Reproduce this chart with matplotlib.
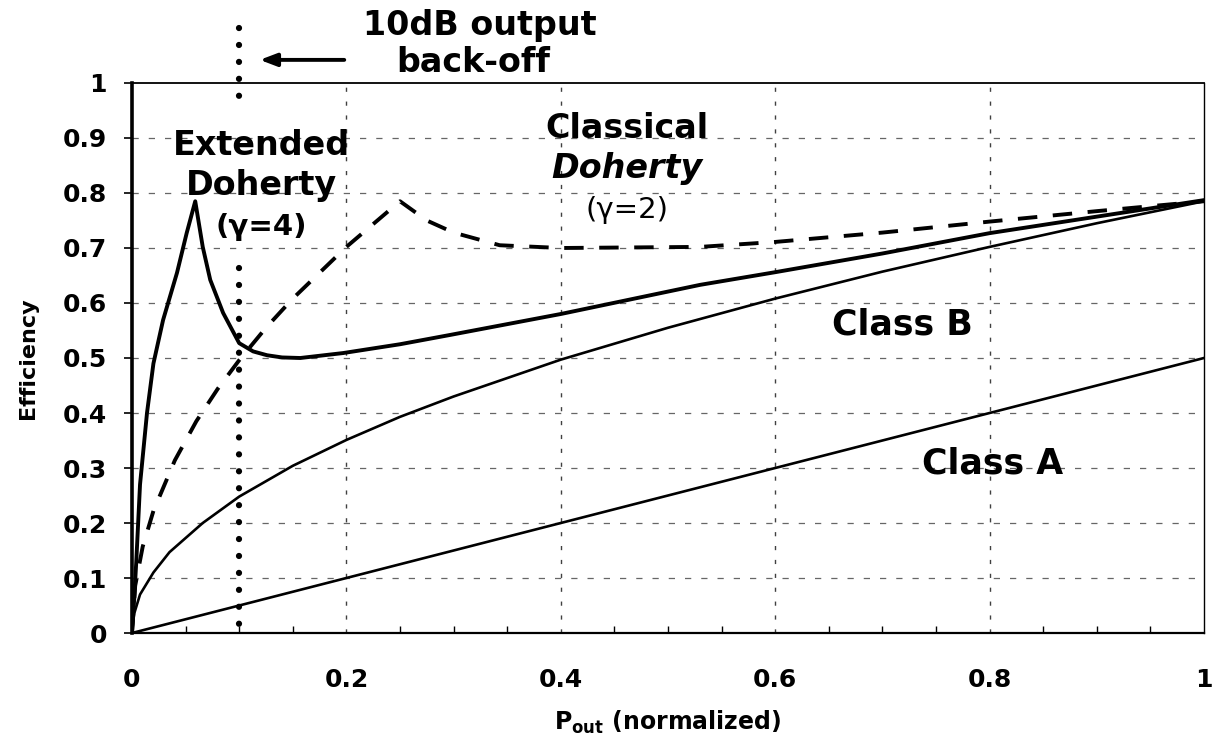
import matplotlib
matplotlib.use("Agg")
import matplotlib.pyplot as plt
import numpy as np

plt.rcParams['font.family'] = ['DejaVu Sans']
plt.rcParams['mathtext.fontset'] = 'dejavusans'

# values
class_a_x = [0.0, 1.0]
class_a_y = [0.0, 0.5]

class_b_x = [0.0, 0.002, 0.0075, 0.02, 0.035, 0.066, 0.1, 0.15, 0.2, 0.25, 0.3,
             0.4, 0.5, 0.6, 0.7, 0.8, 0.9, 1.0]
class_b_y = [0.0, 0.035, 0.07, 0.11, 0.147, 0.2, 0.248, 0.304, 0.351, 0.393, 0.43,
             0.497, 0.555, 0.608, 0.657, 0.702, 0.745, 0.785]

ext_x = [0.0, 0.002, 0.004, 0.0075, 0.014, 0.02, 0.029, 0.042, 0.051, 0.059,
         0.066, 0.073, 0.085, 0.1, 0.113, 0.126, 0.14, 0.157, 0.197, 0.25, 0.297,
         0.4, 0.53, 0.6, 0.7, 0.8, 0.9, 1.0]
ext_y = [0.0, 0.06, 0.13, 0.27, 0.40, 0.49, 0.569, 0.655, 0.727, 0.785,
         0.702, 0.642, 0.582, 0.527, 0.512, 0.505, 0.501, 0.5, 0.509, 0.525, 0.542,
         0.58, 0.633, 0.656, 0.69, 0.727, 0.757, 0.787]

classic_x = [0.0, 0.003, 0.01, 0.02, 0.04, 0.06, 0.08, 0.1, 0.125, 0.15, 0.2,
             0.25, 0.275, 0.3, 0.343, 0.4, 0.53, 0.6, 0.7, 0.8, 0.9, 1.0]
classic_y = [0.0, 0.086, 0.157, 0.222, 0.314, 0.385, 0.444, 0.496, 0.555, 0.608, 0.702,
             0.785, 0.75, 0.728, 0.705, 0.70, 0.702, 0.711, 0.728, 0.748, 0.767, 0.785]

backoff_x = 0.1

xticks = [0, 0.2, 0.4, 0.6, 0.8, 1.0]
xticklabels = ['0', '0.2', '0.4', '0.6', '0.8', '1']
yticks = [0, 0.1, 0.2, 0.3, 0.4, 0.5, 0.6, 0.7, 0.8, 0.9, 1.0]
yticklabels = ['0', '0.1', '0.2', '0.3', '0.4', '0.5', '0.6', '0.7', '0.8', '0.9', '1']

fig = plt.figure(figsize=(12.12, 7.37), dpi=100)
ax = fig.add_axes([0.1089, 0.1411, 0.8845, 0.7463])

ax.set_xlim(0, 1)
ax.set_ylim(0, 1)

# grid
for yv in yticks[1:-1]:
    ax.axhline(yv, color='0.4', lw=0.9, linestyle=(0, (5, 8)), zorder=1)
for xv in xticks[1:-1]:
    ax.axvline(xv, color='0.25', lw=1.0, linestyle=(0, (3, 7)), zorder=1)

ax.plot(class_a_x, class_a_y, color='black', lw=1.9, zorder=3)
ax.plot(class_b_x, class_b_y, color='black', lw=1.9, zorder=3)
ax.plot(ext_x, ext_y, color='black', lw=2.8, zorder=4, solid_joinstyle='round')
ax.plot(classic_x, classic_y, color='black', lw=2.8, linestyle=(0, (5, 4)),
        dash_capstyle='butt', zorder=4)

# 10dB back-off marker (drawn top-down so the dots start at the ends)
dot_style = dict(color='black', lw=4.5, linestyle=(0, (0.01, 2.7)),
                 dash_capstyle='round', clip_on=False, zorder=5)
ax.plot([backoff_x, backoff_x], [0.664, 0.0], **dot_style)
ax.plot([backoff_x, backoff_x], [1.10, 0.951], **dot_style)

ax.annotate('', xy=(0.1166, 1.042), xytext=(0.2006, 1.042),
            xycoords='data', annotation_clip=False,
            arrowprops=dict(arrowstyle='-|>,head_length=1.0,head_width=0.38',
                            color='black', lw=2.8))
ax.text(0.324, 1.105, '10dB output', ha='center', va='center',
        fontsize=24, fontweight='bold', clip_on=False)
ax.text(0.318, 1.038, 'back-off', ha='center', va='center',
        fontsize=24, fontweight='bold', clip_on=False)

ax.text(0.121, 0.887, 'Extended', ha='center', va='center', fontsize=24, fontweight='bold')
ax.text(0.121, 0.813, 'Doherty', ha='center', va='center', fontsize=24, fontweight='bold')
ax.text(0.121, 0.738, '(γ=4)', ha='center', va='center', fontsize=21, fontweight='bold')

ax.text(0.462, 0.918, 'Classical', ha='center', va='center', fontsize=24, fontweight='bold')
ax.text(0.462, 0.845, 'Doherty', ha='center', va='center', fontsize=24,
        fontweight='bold', fontstyle='italic')
ax.text(0.462, 0.769, '(γ=2)', ha='center', va='center', fontsize=21)

ax.text(0.719, 0.56, 'Class B', ha='center', va='center', fontsize=25, fontweight='bold')
ax.text(0.803, 0.309, 'Class A', ha='center', va='center', fontsize=25, fontweight='bold')

# axes and ticks
ax.set_xticks(xticks)
ax.set_xticklabels(xticklabels, fontsize=18, fontweight='bold')
ax.set_yticks(yticks)
ax.set_yticklabels(yticklabels, fontsize=18, fontweight='bold')
ax.set_xticks(np.arange(0.05, 1.0, 0.05), minor=True)
ax.tick_params(axis='x', which='major', length=0, pad=25)
ax.tick_params(axis='x', which='minor', direction='in', length=5, width=1)
ax.tick_params(axis='y', which='major', direction='out', length=6, width=1.2, pad=12)

for side, w in [('left', 2.6), ('bottom', 1.6), ('top', 1.3), ('right', 1.0)]:
    ax.spines[side].set_linewidth(w)
    ax.spines[side].set_zorder(6)

ax.set_ylabel('Efficiency', fontsize=16, fontweight='bold', labelpad=18)
ax.set_xlabel(r'$\mathbf{P_{out}}$ (normalized)', fontsize=17, fontweight='bold', labelpad=12)

fig.savefig('out.png', dpi=100)
